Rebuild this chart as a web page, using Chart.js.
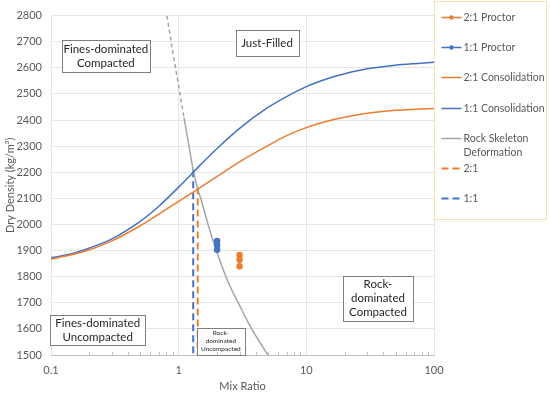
<!DOCTYPE html>
<html>
<head>
<meta charset="utf-8">
<script src="https://cdn.jsdelivr.net/npm/chart.js@4/dist/chart.umd.min.js"></script>
<style>
  html, body { margin: 0; padding: 0; background: #fff; }
  #wrap { width: 550px; height: 394px; }
</style>
</head>
<body>
<div id="wrap"><canvas id="myChart" width="550" height="394"></canvas></div>
<script>
const orange = "#ED7D31";
const blue = "#4472C4";
const gray = "#A5A5A5";
const textGray = "#595959";

// consolidation curves
const consRatio = [0.1, 0.15, 0.2, 0.3, 0.5, 0.7, 1, 1.5, 2, 3, 5, 7, 10, 15, 20, 30, 50, 70, 100];
const cons21 = [1867, 1886, 1903, 1937, 1995, 2040, 2088, 2144, 2184, 2240, 2302, 2340, 2371, 2397, 2411, 2426, 2437, 2441, 2444];
const cons11 = [1872, 1890, 1910, 1945, 2012, 2070, 2143, 2231, 2291, 2368, 2448, 2490, 2528, 2560, 2577, 2596, 2610, 2616, 2621];

// rock skeleton deformation
const rockRatio = [0.81, 0.9, 1.0, 1.1, 1.2, 1.3, 1.4, 1.5, 1.7, 2, 2.5, 3, 3.5, 4, 5];
const rockDensity = [2800, 2660, 2530, 2410, 2305, 2208, 2140, 2095, 2000, 1892, 1768, 1690, 1625, 1575, 1500];

// proctor tests
const proctor21Ratio = [3, 3, 3];
const proctor21 = [1883, 1865, 1840];
const proctor11Ratio = [2, 2, 2];
const proctor11 = [1937, 1920, 1903];

// vertical limits: 2:1 then 1:1
const limitRatio = [1.41, 1.3];
const limitTop = [2142, 2208];

const xTicks = [0.1, 1, 10, 100];
const yMin = 1500;
const yMax = 2800;
const yStep = 100;

const pts = (xs, ys) => xs.map((x, i) => ({ x: x, y: ys[i] }));

// text boxes, anchored at data coordinates
const zones = [
  { lines: ["Fines-dominated", "Compacted"], x: 0.269, y: 2644, w: 88, h: 32, size: 11.5 },
  { lines: ["Just-Filled"], x: 4.92, y: 2695, w: 63, h: 26, size: 11.5 },
  { lines: ["Fines-dominated", "Uncompacted"], x: 0.232, y: 1594, w: 95, h: 30, size: 11.5 },
  { lines: ["Rock-", "dominated", "Uncompacted"], x: 2.14, y: 1553, w: 48, h: 27, size: 6.5 },
  { lines: ["Rock-", "dominated", "Compacted"], x: 36.4, y: 1716, w: 70, h: 45, size: 11.5 },
];

const zoneBoxes = {
  id: "zoneBoxes",
  afterDatasetsDraw(chart) {
    const ctx = chart.ctx;
    const xs = chart.scales.x, ys = chart.scales.y;
    ctx.save();
    zones.forEach((z) => {
      const cx = xs.getPixelForValue(z.x);
      const cy = ys.getPixelForValue(z.y);
      const l = Math.round(cx - z.w / 2) + 0.5;
      const t = Math.round(cy - z.h / 2) + 0.5;
      ctx.fillStyle = "#fff";
      ctx.fillRect(l, t, z.w, z.h);
      ctx.strokeStyle = "#7F7F7F";
      ctx.lineWidth = 1;
      ctx.strokeRect(l, t, z.w, z.h);
      ctx.fillStyle = "#262626";
      ctx.font = z.size + "px Lato";
      ctx.textAlign = "center";
      ctx.textBaseline = "middle";
      const lh = z.size * 1.22;
      const y0 = cy - (lh * (z.lines.length - 1)) / 2;
      z.lines.forEach((s, i) => ctx.fillText(s, cx, y0 + i * lh));
    });
    ctx.restore();
  },
};

const minorTicks = {
  id: "minorTicks",
  afterDraw(chart) {
    const ctx = chart.ctx;
    const xs = chart.scales.x;
    const bottom = chart.chartArea.bottom;
    ctx.save();
    ctx.strokeStyle = "#BFBFBF";
    ctx.lineWidth = 1;
    for (let d = 0.1; d < 100; d *= 10) {
      for (let m = 2; m < 10; m++) {
        const px = Math.round(xs.getPixelForValue(d * m)) + 0.5;
        ctx.beginPath();
        ctx.moveTo(px, bottom);
        ctx.lineTo(px, bottom - 3);
        ctx.stroke();
      }
    }
    ctx.restore();
  },
};

const sideLegend = {
  id: "sideLegend",
  afterDraw(chart) {
    const ctx = chart.ctx;
    const left = Math.round(chart.chartArea.right) + 0.5;
    const top = 1.5, right = 546.5, bottom = 219.5;
    ctx.save();
    ctx.fillStyle = "#fff";
    ctx.fillRect(left, top, right - left, bottom - top);
    ctx.strokeStyle = "#F6E3B0";
    ctx.lineWidth = 1;
    ctx.strokeRect(left, top, right - left, bottom - top);
    ctx.font = "10.5px Lato";
    ctx.textBaseline = "middle";
    ctx.textAlign = "left";
    chart.data.datasets.forEach((ds, i) => {
      const y = Math.round(17 + i * 30.2) + 0.5;
      ctx.strokeStyle = ds.borderColor;
      ctx.lineWidth = ds.borderDash ? 2 : 1.5;
      ctx.setLineDash(ds.borderDash ? [7, 4] : []);
      ctx.beginPath();
      ctx.moveTo(left + 7, y);
      ctx.lineTo(left + 27, y);
      ctx.stroke();
      ctx.setLineDash([]);
      if (ds.pointRadius) {
        ctx.fillStyle = ds.borderColor;
        ctx.beginPath();
        ctx.arc(left + 17, y, 2.2, 0, Math.PI * 2);
        ctx.fill();
      }
      ctx.fillStyle = textGray;
      // wrap long labels
      const words = ds.label.split(" ");
      const lines = [];
      let cur = "";
      words.forEach((w) => {
        const test = cur ? cur + " " + w : w;
        if (ctx.measureText(test).width > 84 && cur) {
          lines.push(cur);
          cur = w;
        } else cur = test;
      });
      lines.push(cur);
      lines.forEach((s, k) => ctx.fillText(s, left + 29, y + k * 14));
    });
    ctx.restore();
  },
};

const data = {
  datasets: [
    {
      label: "2:1 Proctor",
      data: pts(proctor21Ratio, proctor21),
      borderColor: orange,
      backgroundColor: orange,
      borderWidth: 1.5,
      pointRadius: 2.5,
      showLine: true,
    },
    {
      label: "1:1 Proctor",
      data: pts(proctor11Ratio, proctor11),
      borderColor: blue,
      backgroundColor: blue,
      borderWidth: 1.5,
      pointRadius: 2.5,
      showLine: true,
    },
    {
      label: "2:1 Consolidation",
      data: pts(consRatio, cons21),
      borderColor: orange,
      borderWidth: 1.5,
      pointRadius: 0,
      cubicInterpolationMode: "monotone",
      showLine: true,
    },
    {
      label: "1:1 Consolidation",
      data: pts(consRatio, cons11),
      borderColor: blue,
      borderWidth: 1.5,
      pointRadius: 0,
      cubicInterpolationMode: "monotone",
      showLine: true,
    },
    {
      label: "Rock Skeleton Deformation",
      data: pts(rockRatio, rockDensity),
      borderColor: gray,
      borderWidth: 1.5,
      pointRadius: 0,
      cubicInterpolationMode: "monotone",
      showLine: true,
      segment: {
        borderDash: (c) => (c.p1.parsed.y >= 2410 ? [4, 3] : undefined),
      },
    },
    {
      label: "2:1",
      data: pts([limitRatio[0], limitRatio[0]], [limitTop[0], yMin]),
      borderColor: orange,
      borderWidth: 2,
      borderDash: [7, 4],
      pointRadius: 0,
      showLine: true,
    },
    {
      label: "1:1",
      data: pts([limitRatio[1], limitRatio[1]], [limitTop[1], yMin]),
      borderColor: blue,
      borderWidth: 2,
      borderDash: [7, 4],
      pointRadius: 0,
      showLine: true,
    },
  ],
};

const config = {
  type: "scatter",
  data: data,
  options: {
    responsive: false,
    animation: false,
    layout: { padding: { top: 9, right: 116, left: 0, bottom: 0 } },
    plugins: {
      legend: { display: false },
      tooltip: { enabled: false },
    },
    scales: {
      x: {
        type: "logarithmic",
        min: 0.1,
        max: 100,
        afterBuildTicks: (scale) => {
          scale.ticks = xTicks.map((v) => ({ value: v }));
        },
        afterFit: (scale) => {
          scale.height = 39;
        },
        ticks: {
          padding: 9,
          color: textGray,
          font: { family: "Lato", size: 11 },
          autoSkip: false,
          maxRotation: 0,
          callback: (value) => "" + value,
        },
        grid: { color: "#E6E6E6", drawTicks: false },
        border: { color: "#BFBFBF" },
        title: {
          display: true,
          text: "Mix Ratio",
          color: textGray,
          font: { family: "Lato", size: 11 },
          padding: { top: 0, bottom: 1 },
        },
      },
      y: {
        min: yMin,
        max: yMax,
        afterFit: (scale) => {
          scale.width = 51;
        },
        ticks: {
          stepSize: yStep,
          padding: 9,
          color: textGray,
          font: { family: "Lato", size: 11 },
          callback: (value) => "" + value,
        },
        grid: { color: "#E6E6E6", drawTicks: false },
        border: { display: false },
        title: {
          display: true,
          text: "Dry Density (kg/m³)",
          color: textGray,
          font: { family: "Lato", size: 11 },
          padding: { top: 4, bottom: 0 },
        },
      },
    },
  },
  plugins: [zoneBoxes, minorTicks, sideLegend],
};

const myChart = new Chart(document.getElementById("myChart").getContext("2d"), config);
</script>
</body>
</html>
